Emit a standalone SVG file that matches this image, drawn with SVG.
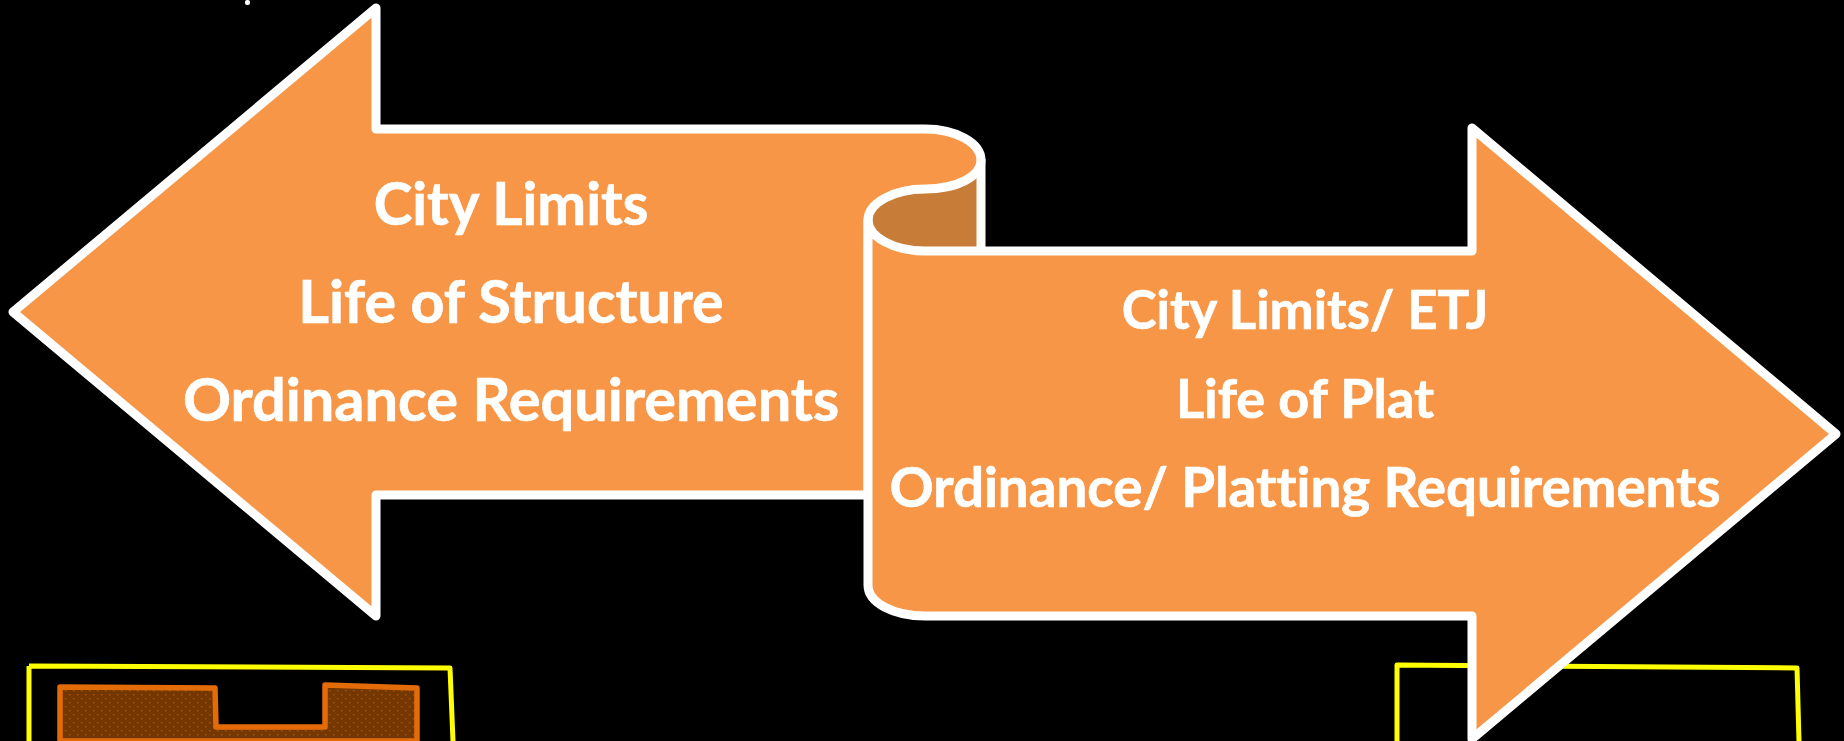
<svg xmlns="http://www.w3.org/2000/svg" width="1844" height="741" viewBox="0 0 1844 741">
<style>
text{font-family:"Lato","Open Sans","Liberation Sans",sans-serif;font-weight:700;font-variant-ligatures:none;fill:#fff;stroke:#fff;stroke-width:.7;text-anchor:middle}
.l{font-size:59.5px}
.r{font-size:54.5px}
.w{stroke:#fff;stroke-width:9;stroke-linejoin:round;stroke-linecap:round}
.y{fill:none;stroke:#ff0;stroke-width:5;stroke-linejoin:round}
</style>
<defs>
<pattern id="dots" width="8" height="8" patternUnits="userSpaceOnUse">
<rect width="8" height="8" fill="#743700"/>
<rect x="1" y="2" width="1.5" height="1.5" fill="#a85206"/>
<rect x="5" y="6" width="1.5" height="1.5" fill="#a85206"/>
</pattern>
</defs>
<rect width="1844" height="741" fill="#000"/>
<rect x="245" y="0" width="5" height="5" rx="2" fill="#fff"/>
<g id="parcel-left">
<path class="y" d="M29 666L450 668L453 741M29 666V741"/>
<path d="M60 687L215 688L216 727L325 727L325 685L417 688V741H60Z" fill="url(#dots)" stroke="#e36c09" stroke-width="5.5" stroke-linejoin="round"/>
</g>
<g id="parcel-right">
<path class="y" d="M1397 741V665L1797 668L1799 741"/>
</g>
<g id="scroll-arrows">
<path d="M981 160V251H925C894 251 868 237 868 220C868 203 894 189 925 189C956 189 981 177 981 160Z" fill="#c77c38"/>
<path d="M981 160V251" fill="none" class="w"/>
<path d="M13 312L376 8V129H925C956 129 981 143 981 160C981 177 956 189 925 189C894 189 868 203 868 220V495H376V616Z" fill="#f79646" class="w"/>
<path d="M868 220C868 237 894 251 925 251H1472V128L1836 434L1472 739V616H925C894 616 868 603 868 585Z" fill="#f79646" class="w"/>
</g>
<g id="label-left">
<text class="l" x="511" y="225" style="font-size:58.3px">City Limits</text>
<text class="l" x="511" y="323" style="font-size:59.2px">Life of Structure</text>
<text class="l" x="511" y="421">Ordinance Requirements</text>
</g>
<g id="label-right">
<text class="r" x="1305" y="329" style="font-size:52.7px">City Limits/ ETJ</text>
<text class="r" x="1305" y="418" style="font-size:54px">Life of Plat</text>
<text class="r" x="1305" y="507" style="font-size:54.7px">Ordinance/ Platting Requirements</text>
</g>
</svg>
